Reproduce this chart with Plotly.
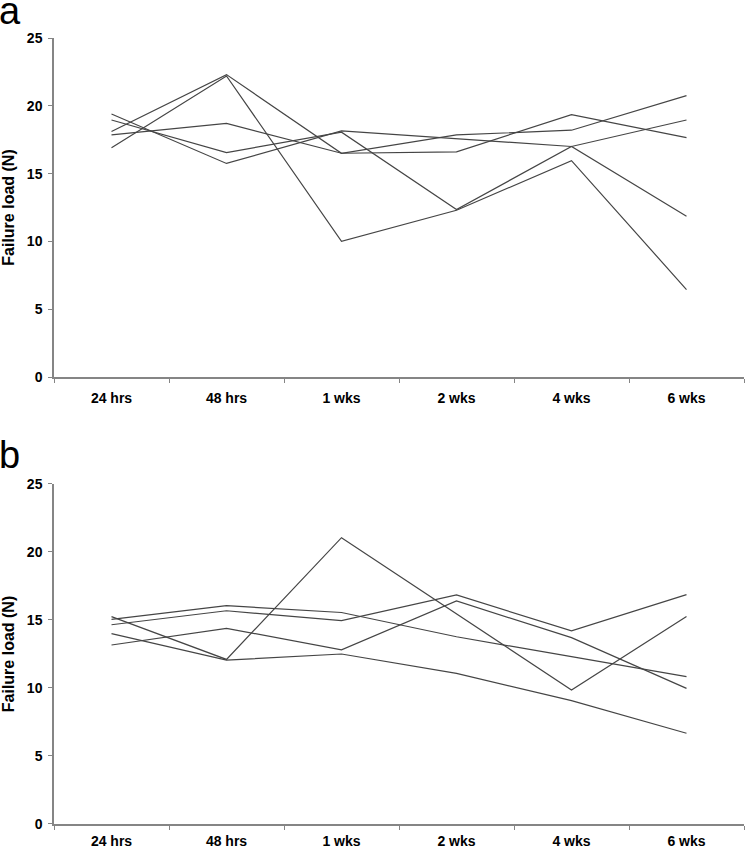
import plotly.graph_objects as go

categories = ["24 hrs", "48 hrs", "1 wks", "2 wks", "4 wks", "6 wks"]

# Panel a: failure load (N) per specimen
a_s1 = [19.4, 15.75, 18.15, 17.55, 17.0, 18.95]
a_s2 = [18.95, 16.55, 18.05, 12.35, 17.0, 11.85]
a_s3 = [17.85, 18.7, 16.5, 16.6, 19.35, 17.65]
a_s4 = [18.1, 22.3, 16.5, 17.85, 18.2, 20.75]
a_s5 = [16.9, 22.2, 10.0, 12.3, 15.95, 6.45]

# Panel b
b_s1 = [15.05, 16.05, 15.55, 13.77, 12.3, 10.83]
b_s2 = [14.65, 15.68, 14.95, 16.84, 14.2, 16.86]
b_s3 = [13.16, 14.39, 12.8, 16.4, 13.7, 9.97]
b_s4 = [15.25, 12.1, 21.05, 15.45, 9.85, 15.25]
b_s5 = [14.0, 12.05, 12.5, 11.08, 9.07, 6.67]

y_ticks = [0, 5, 10, 15, 20, 25]

LINE_COLOR = "#454545"
AXIS_COLOR = "#858585"
FONT = "Liberation Sans, Arial, sans-serif"

fig = go.Figure()
for s in [a_s1, a_s2, a_s3, a_s4, a_s5]:
    fig.add_trace(go.Scatter(x=categories, y=s, mode="lines", xaxis="x", yaxis="y",
                             line=dict(color=LINE_COLOR, width=1.2), showlegend=False,
                             hoverinfo="skip"))
for s in [b_s1, b_s2, b_s3, b_s4, b_s5]:
    fig.add_trace(go.Scatter(x=categories, y=s, mode="lines", xaxis="x2", yaxis="y2",
                             line=dict(color=LINE_COLOR, width=1.2), showlegend=False,
                             hoverinfo="skip"))

def xax(anchor, standoff):
    return dict(type="category", categoryorder="array", categoryarray=categories,
                range=[-0.5, 5.5], tickson="boundaries", ticks="outside", ticklen=4,
                tickcolor=AXIS_COLOR, showline=True, linecolor=AXIS_COLOR, linewidth=1.5,
                showgrid=False, zeroline=False, anchor=anchor, domain=[0, 1],
                automargin=False,
                tickfont=dict(family=FONT, size=14, color="#000", weight="bold"),
                ticklabelstandoff=standoff)

def yax(anchor, domain):
    return dict(range=[0, 25], tickvals=y_ticks, ticks="outside", ticklen=4,
                tickcolor=AXIS_COLOR, showline=True, linecolor=AXIS_COLOR, linewidth=1.5,
                showgrid=False, zeroline=False, anchor=anchor, domain=domain,
                automargin=False,
                tickfont=dict(family=FONT, size=14, color="#000", weight="bold"),
                ticklabelstandoff=3,
                title=dict(text="Failure load (N)", standoff=10,
                           font=dict(family=FONT, size=16, color="#000", weight="bold")))

fig.update_layout(
    width=745, height=850,
    margin=dict(l=54, r=1, t=38, b=26),
    paper_bgcolor="white", plot_bgcolor="white",
    xaxis=xax("y", 7), yaxis=yax("x", [0.5687, 1.0]),
    xaxis2=xax("y2", 3), yaxis2=yax("x2", [0.0, 0.4326]),
    annotations=[
        dict(text="a", xref="paper", yref="paper", x=-0.082, y=1.064, xanchor="left",
             yanchor="top", showarrow=False, font=dict(family=FONT, size=38, color="#000")),
        dict(text="b", xref="paper", yref="paper", x=-0.082, y=0.499, xanchor="left",
             yanchor="top", showarrow=False, font=dict(family=FONT, size=38, color="#000")),
    ],
)

fig.write_html("out.html", config={"displayModeBar": False},
               post_script="document.body.style.margin='0';")
